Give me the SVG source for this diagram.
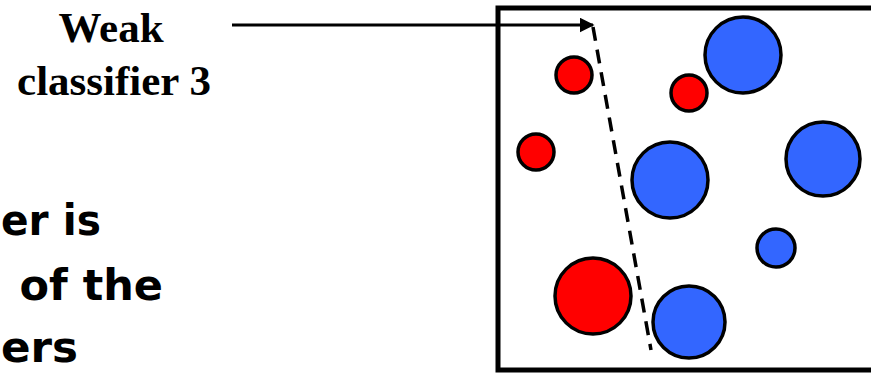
<svg xmlns="http://www.w3.org/2000/svg" width="871" height="373" viewBox="0 0 871 373">
<style>
.lbl{font-family:"Liberation Serif","Times New Roman",serif;font-weight:bold;font-size:43px;fill:#000;text-anchor:middle}
.big{font-family:"DejaVu Sans",Verdana,sans-serif;font-weight:bold;font-size:43px;fill:#000}
.red{fill:#ff0000;stroke:#000;stroke-width:3.5}
.blue{fill:#3366ff;stroke:#000;stroke-width:3.5}
</style>
<defs>
<marker id="ah" viewBox="0 0 10 10" refX="9" refY="5" markerWidth="5" markerHeight="5" orient="auto" markerUnits="strokeWidth">
<path d="M0,0 L10,5 L0,10 Z" fill="#000"/>
</marker>
</defs>
<rect width="871" height="373" fill="#fff"/>
<g id="label-weak">
<text class="lbl" x="111" y="42">Weak</text>
<text class="lbl" x="114" y="95">classifier 3</text>
</g>
<g id="caption">
<text class="big" x="1" y="235" textLength="100" lengthAdjust="spacingAndGlyphs">er is</text>
<text class="big" x="163" y="300" text-anchor="end">of the</text>
<text class="big" x="1" y="362" textLength="77" lengthAdjust="spacingAndGlyphs">ers</text>
</g>
<g id="frame">
<rect x="498" y="8" width="400" height="362" fill="none" stroke="#000" stroke-width="5"/>
</g>
<g id="connectors">
<line x1="232" y1="25" x2="593" y2="25" stroke="#000" stroke-width="3" marker-end="url(#ah)"/>
<line x1="593" y1="27" x2="651" y2="350" stroke="#000" stroke-width="3.5" stroke-dasharray="14,9"/>
</g>
<g id="points">
<circle id="r1" class="red" cx="574" cy="75" r="18"/>
<circle id="r2" class="red" cx="689" cy="93" r="18"/>
<circle id="r3" class="red" cx="536" cy="152" r="18"/>
<circle id="r4" class="red" cx="593" cy="296" r="38"/>
<circle id="b1" class="blue" cx="743" cy="55" r="38"/>
<circle id="b2" class="blue" cx="823" cy="159" r="37"/>
<circle id="b3" class="blue" cx="670" cy="180" r="38"/>
<circle id="b4" class="blue" cx="776" cy="248" r="19"/>
<circle id="b5" class="blue" cx="689" cy="322" r="36"/>
</g>
</svg>
